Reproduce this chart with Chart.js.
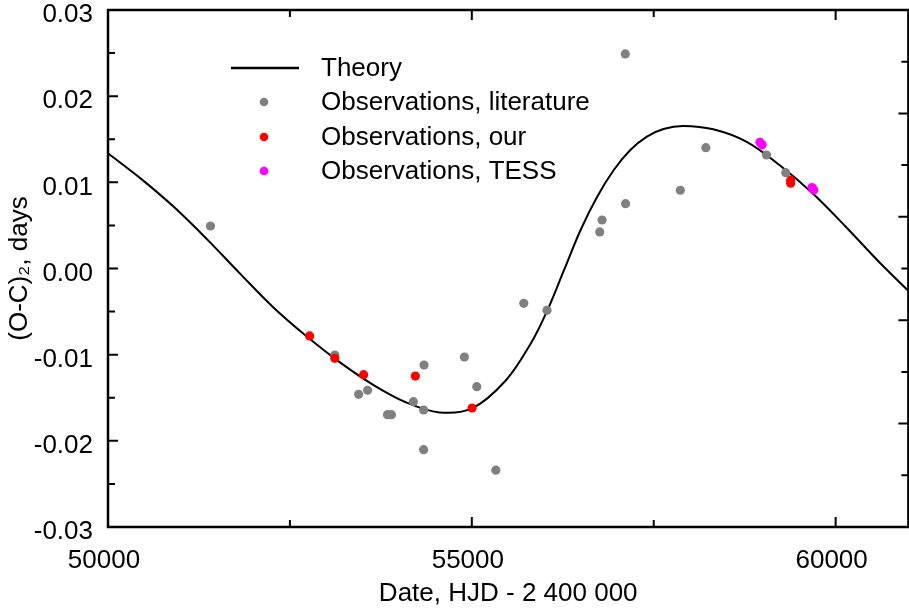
<!DOCTYPE html>
<html>
<head>
<meta charset="utf-8">
<script src="https://cdn.jsdelivr.net/npm/chart.js@4"></script>
<style>
  body { margin: 0; background: #fff; }
  #wrap { width: 909px; height: 610px; overflow: hidden; position: relative; }
  canvas { display: block; }
</style>
</head>
<body>
<div id="wrap"><canvas id="oc" width="913" height="610"></canvas></div>
<script>
// theory curve
const theoryX = [50000, 50455, 50911, 51366, 51821, 52277, 52733, 53188, 53644, 54100, 54555, 55010,
  55466, 55812, 56040, 56268, 56495, 56723, 56951, 57178, 57406, 57634, 57907, 58317, 58772,
  59228, 59683, 60139, 60594, 61000];
const theoryY = [0.01337, 0.0104, 0.0071, 0.00335, -0.00065, -0.00455, -0.0079, -0.0109, -0.0135,
  -0.01555, -0.0167, -0.0162, -0.013, -0.00868, -0.00482, -0.00017, 0.00447, 0.00833, 0.01143,
  0.01375, 0.0153, 0.01619, 0.01654, 0.01615, 0.01472, 0.01201, 0.00873, 0.00485, 0.00079, -0.0026];

// observations
const litX = [51408, 53117, 53445, 53568, 53841, 53896, 54197, 54338, 54343, 54338, 54898, 55068,
  55330, 55714, 56033, 56758, 56790, 57113, 57109, 57865, 58216, 59050, 59314];
const litY = [0.00493, -0.01004, -0.0146, -0.01413, -0.01697, -0.01697, -0.01546, -0.01642, -0.0112,
  -0.02103, -0.01027, -0.01372, -0.0234, -0.00404, -0.00485, 0.00424, 0.00563, 0.00752, 0.0249,
  0.00908, 0.01402, 0.01317, 0.01112];
const ourX = [52771, 53117, 53513, 54224, 55004, 59382, 59382];
const ourY = [-0.00783, -0.01042, -0.01232, -0.01248, -0.01619, 0.0099, 0.01025];
const tessX = [58960, 58990, 59675, 59700];
const tessY = [0.01465, 0.01435, 0.0094, 0.0091];

const xTicks = [50000, 55000, 60000];
const xMinor = [52500, 57500];
const yTicks = [-0.03, -0.02, -0.01, 0.00, 0.01, 0.02, 0.03];

const FONT = '"Liberation Sans", Arial, Helvetica, sans-serif';

function pts(xs, ys) {
  return xs.map((x, i) => ({ x: x, y: ys[i] }));
}

// frame, inward ticks and the legend inside the plot
const framePlugin = {
  id: 'frame',
  afterDraw(chart) {
    const c = chart.ctx;
    const a = chart.chartArea;
    const xs = chart.scales.x, ys = chart.scales.y, y2 = chart.scales.y2;
    c.save();
    c.strokeStyle = '#000';
    c.lineWidth = 2.5;
    c.strokeRect(a.left, a.top, a.right - a.left, a.bottom - a.top);
    c.lineWidth = 2;
    c.beginPath();
    xTicks.concat(xMinor).forEach(v => {
      const px = xs.getPixelForValue(v);
      const len = xTicks.includes(v) ? 10 : 7;
      c.moveTo(px, a.bottom); c.lineTo(px, a.bottom - len);
      c.moveTo(px, a.top); c.lineTo(px, a.top + len);
    });
    for (let v = -0.03; v <= 0.0301; v += 0.005) {
      const py = ys.getPixelForValue(v);
      const major = Math.abs(Math.round(v * 1000) % 10) === 0;
      c.moveTo(a.left, py); c.lineTo(a.left + (major ? 10 : 7), py);
    }
    for (let k = 0; k <= 10; k++) {
      const py = y2.getPixelForValue(k);
      c.moveTo(a.right, py); c.lineTo(a.right - (k % 2 === 0 ? 10 : 7), py);
    }
    c.stroke();

    // legend
    const rows = [68, 102, 137, 171];
    c.font = '26px ' + FONT;
    c.textBaseline = 'middle';
    chart.data.datasets.forEach((ds, i) => {
      const y = rows[i];
      if (ds.showLine) {
        c.strokeStyle = ds.borderColor;
        c.lineWidth = 2.5;
        c.beginPath(); c.moveTo(231, y); c.lineTo(299, y); c.stroke();
      } else {
        c.fillStyle = ds.backgroundColor;
        c.beginPath(); c.arc(264, y, 4.3, 0, Math.PI * 2); c.fill();
      }
      c.fillStyle = '#000';
      c.fillText(ds.label, 321, y + 1);
    });
    c.restore();
  }
};

new Chart(document.getElementById('oc').getContext('2d'), {
  type: 'scatter',
  data: {
    datasets: [
      {
        label: 'Theory',
        data: pts(theoryX, theoryY),
        showLine: true,
        borderColor: '#000',
        borderWidth: 2,
        pointRadius: 0,
        tension: 0.35,
        order: 4
      },
      {
        label: 'Observations, literature',
        data: pts(litX, litY),
        backgroundColor: '#808080',
        borderWidth: 0,
        pointRadius: 4.6,
        order: 3
      },
      {
        label: 'Observations, our',
        data: pts(ourX, ourY),
        backgroundColor: '#ff0000',
        borderWidth: 0,
        pointRadius: 4.6,
        order: 2
      },
      {
        label: 'Observations, TESS',
        data: pts(tessX, tessY),
        backgroundColor: '#ff00ff',
        borderWidth: 0,
        pointRadius: 4.6,
        order: 1
      }
    ]
  },
  options: {
    responsive: false,
    animation: false,
    layout: { padding: { top: 10, left: 0, right: 0, bottom: 0 } },
    plugins: {
      legend: { display: false },
      tooltip: { enabled: false }
    },
    scales: {
      x: {
        type: 'linear',
        min: 50000,
        max: 61000,
        grid: { display: false, drawTicks: false },
        border: { display: false },
        afterBuildTicks: s => { s.ticks = xTicks.map(v => ({ value: v })); },
        afterFit: s => { s.height = 83; s.paddingLeft = 0; s.paddingRight = 0; },
        ticks: {
          padding: 18,
          labelOffset: -4,
          color: '#000',
          font: { family: FONT, size: 26 },
          maxRotation: 0,
          callback: v => String(v)
        },
        title: {
          display: true,
          text: 'Date, HJD - 2 400 000',
          color: '#000',
          font: { family: FONT, size: 26 },
          padding: { top: 0, bottom: 1 }
        }
      },
      y: {
        min: -0.03,
        max: 0.03,
        grid: { display: false, drawTicks: false },
        border: { display: false },
        afterBuildTicks: s => { s.ticks = yTicks.map(v => ({ value: v })); },
        afterFit: s => { s.width = 108; s.paddingTop = 0; s.paddingBottom = 0; },
        ticks: {
          padding: 15,
          labelOffset: 5,
          color: '#000',
          font: { family: FONT, size: 26 },
          callback: v => v.toFixed(2)
        },
        title: {
          display: true,
          text: '(O-C)\u2082, days',
          color: '#000',
          font: { family: FONT, size: 26 },
          padding: { top: 4, bottom: 0 }
        }
      },
      y2: {
        position: 'right',
        display: false,
        min: 0,
        max: 10
      }
    }
  },
  plugins: [framePlugin]
});
</script>
</body>
</html>
